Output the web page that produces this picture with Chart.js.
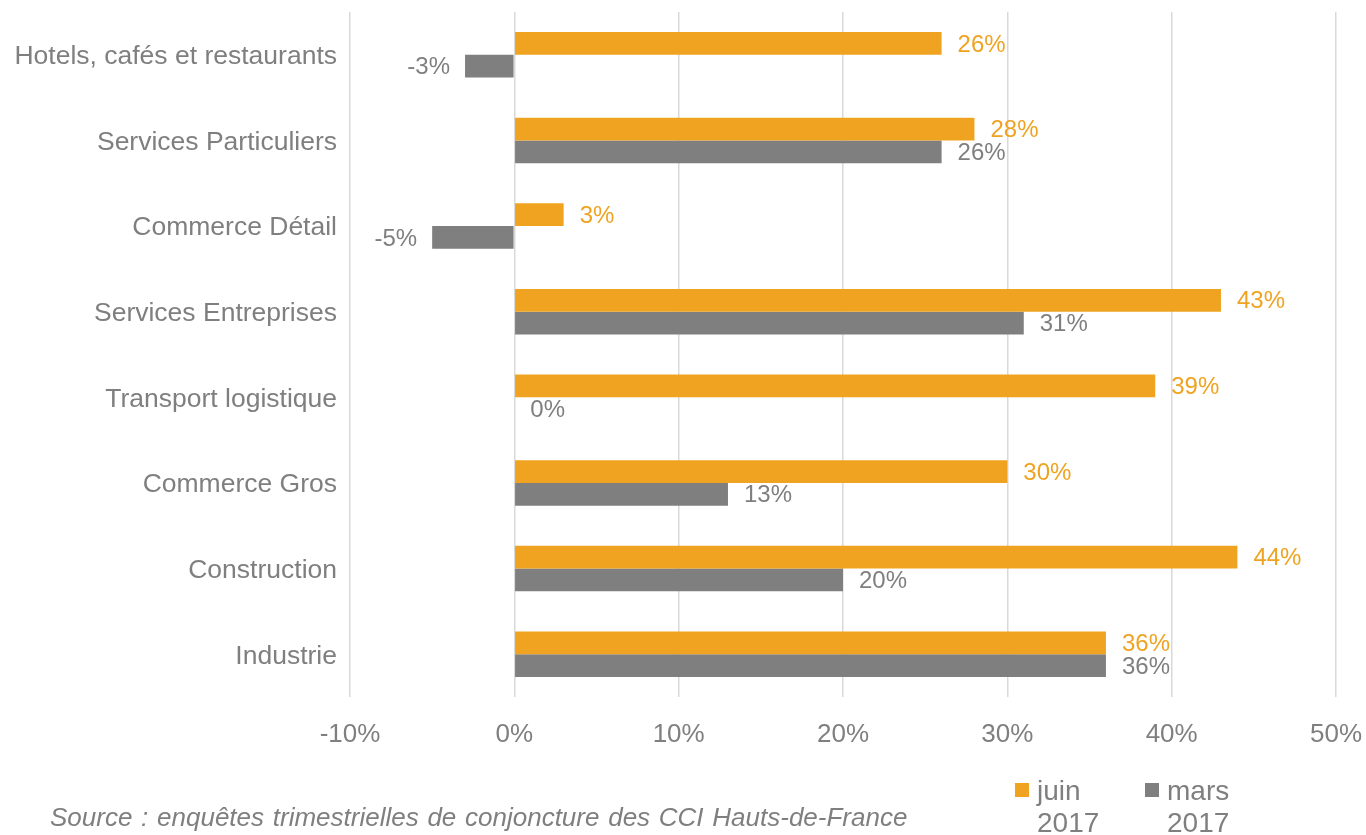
<!DOCTYPE html>
<html>
<head>
<meta charset="utf-8">
<script src="https://cdn.jsdelivr.net/npm/chart.js@4/dist/chart.umd.min.js"></script>
<style>
  html, body { margin: 0; padding: 0; background: #fff; }
  #wrap { position: relative; width: 1366px; height: 835px; overflow: hidden; }
  #chart { position: absolute; left: 0; top: 0; }
  .legend { position: absolute; top: 775px; font-family: "Liberation Sans", Arial, sans-serif; font-size: 28px; line-height: 32px; color: #7f7f7f; }
  .legend .box { position: absolute; left: 0; top: 8px; width: 14px; height: 14px; }
  .legend .txt { position: absolute; left: 22px; top: 0; white-space: nowrap; }
  #source { position: absolute; left: 50px; top: 802px; font-family: "Liberation Sans", Arial, sans-serif; font-style: italic; font-size: 26px; word-spacing: 1.5px; color: #7f7f7f; white-space: nowrap; }
</style>
</head>
<body>
<div id="wrap">
  <canvas id="chart" width="1366" height="835"></canvas>
  <div class="legend" id="leg-juin" style="left:1015px"><div class="box"></div><div class="txt">juin<br>2017</div></div>
  <div class="legend" id="leg-mars" style="left:1145px"><div class="box"></div><div class="txt">mars<br>2017</div></div>
  <div id="source">Source : enquêtes trimestrielles de conjoncture des CCI Hauts-de-France</div>
</div>
<script>
const categories = [
    'Hotels, cafés et restaurants',
    'Services Particuliers',
    'Commerce Détail',
    'Services Entreprises',
    'Transport logistique',
    'Commerce Gros',
    'Construction',
    'Industrie'
];
const juin2017 = [26, 28, 3, 43, 39, 30, 44, 36];
const mars2017 = [-3, 26, -5, 31, 0, 13, 20, 36];
const seriesNames = ['juin 2017', 'mars 2017'];

const colors = {
    juin: '#efa321',
    mars: '#7f7f7f',
    text: '#7f7f7f',
    grid: '#d9d9d9'
};
const FONT = '"Liberation Sans", Arial, sans-serif';

document.querySelector('#leg-juin .box').style.background = colors.juin;
document.querySelector('#leg-mars .box').style.background = colors.mars;

// value labels next to the bar ends
const barLabels = {
    id: 'barLabels',
    afterDatasetsDraw(chart) {
        const ctx = chart.ctx;
        ctx.save();
        ctx.font = '24px ' + FONT;
        ctx.textBaseline = 'middle';
        chart.data.datasets.forEach(function(ds, i) {
            const meta = chart.getDatasetMeta(i);
            ctx.fillStyle = ds.labelColor;
            meta.data.forEach(function(bar, j) {
                const v = ds.data[j];
                if (v < 0) {
                    ctx.textAlign = 'right';
                    ctx.fillText(v + '%', bar.x - 15, bar.y + 1.5);
                } else {
                    ctx.textAlign = 'left';
                    ctx.fillText(v + '%', bar.x + 16, bar.y + 1.5);
                }
            });
        });
        ctx.restore();
    }
};

new Chart(document.getElementById('chart'), {
    type: 'bar',
    data: {
        labels: categories,
        datasets: [
            {
                label: seriesNames[0],
                data: juin2017,
                backgroundColor: colors.juin,
                labelColor: colors.juin,
                categoryPercentage: 0.53,
                barPercentage: 1
            },
            {
                label: seriesNames[1],
                data: mars2017,
                backgroundColor: colors.mars,
                labelColor: colors.text,
                categoryPercentage: 0.53,
                barPercentage: 1
            }
        ]
    },
    options: {
        indexAxis: 'y',
        responsive: false,
        animation: false,
        layout: { padding: { top: 12, right: 30, bottom: 78, left: 0 } },
        plugins: {
            legend: { display: false },
            tooltip: { enabled: false }
        },
        scales: {
            x: {
                min: -10,
                max: 50,
                ticks: {
                    stepSize: 10,
                    color: colors.text,
                    font: { family: FONT, size: 26 },
                    padding: 22,
                    callback: function(v) { return v + '%'; }
                },
                grid: { color: colors.grid, lineWidth: 1.5, drawTicks: false },
                border: { display: false },
                afterFit: function(scale) {
                    scale.height = 60;
                    scale.paddingLeft = 0;
                    scale.paddingRight = 0;
                }
            },
            y: {
                ticks: {
                    color: colors.text,
                    font: { family: FONT, size: 26.5 },
                    padding: 13,
                    labelOffset: 2
                },
                grid: { display: false, drawTicks: false },
                border: { display: false },
                afterFit: function(scale) {
                    scale.width = 350;
                    scale.paddingTop = 0;
                    scale.paddingBottom = 0;
                }
            }
        }
    },
    plugins: [barLabels]
});
</script>
</body>
</html>
